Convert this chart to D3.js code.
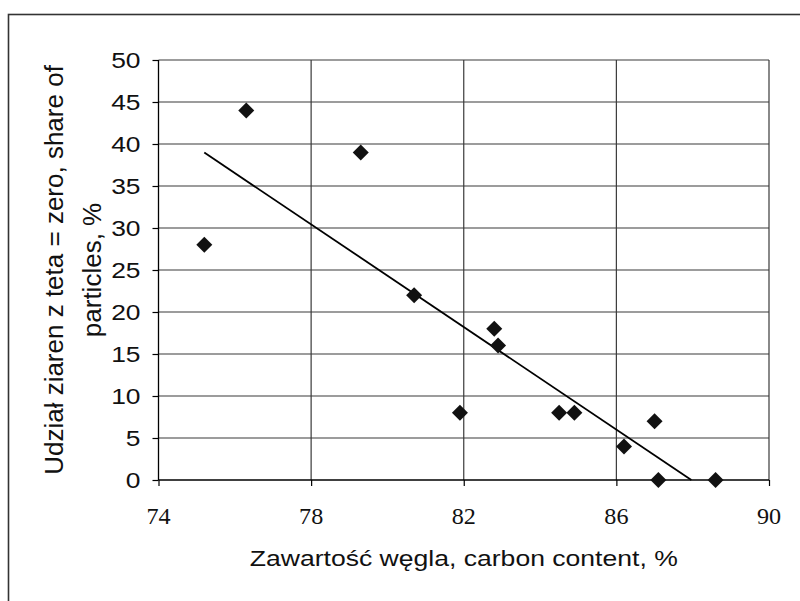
<!DOCTYPE html>
<html>
<head>
<meta charset="utf-8">
<script src="https://cdn.jsdelivr.net/npm/d3@7"></script>
<style>
  html, body { margin: 0; padding: 0; background: #fff; }
  svg { display: block; }
</style>
</head>
<body>
<svg id="chart" width="800" height="601"></svg>
<script>
// ---- data ----
const carbon = [75.2, 76.3, 79.3, 80.7, 81.9, 82.8, 82.9, 84.5, 84.9, 86.2, 87.0, 87.1, 88.6];
const share  = [28, 44, 39, 22, 8, 18, 16, 8, 8, 4, 7, 0, 0];
const xTicks = [74, 78, 82, 86, 90];
const yTicks = [0, 5, 10, 15, 20, 25, 30, 35, 40, 45, 50];
const xTitle = "Zawartość węgla, carbon content, %";
const yTitleLines = ["Udział ziaren z teta = zero, share of", "particles, %"];

// ---- layout ----
const svg = d3.select("#chart");
const plot = { left: 158.5, right: 769, top: 60, bottom: 480 };
const x = d3.scaleLinear().domain([74, 90]).range([plot.left, plot.right]);
const y = d3.scaleLinear().domain([0, 50]).range([plot.bottom, plot.top]);

// outer frame
svg.append("rect")
  .attr("x", 8.5).attr("y", 14.5)
  .attr("width", 820).attr("height", 620)
  .attr("fill", "none").attr("stroke", "#333").attr("stroke-width", 1.6);

// gridlines
const grid = svg.append("g");
grid.selectAll("line.h").data(yTicks.filter(d => d !== 0)).join("line")
  .attr("x1", plot.left).attr("x2", plot.right)
  .attr("y1", d => y(d)).attr("y2", d => y(d))
  .attr("stroke", "#3a3a3a").attr("stroke-width", 1.2);
grid.selectAll("line.v").data(xTicks.filter(d => d !== 74)).join("line")
  .attr("y1", plot.top).attr("y2", plot.bottom)
  .attr("x1", d => x(d)).attr("x2", d => x(d))
  .attr("stroke", "#3a3a3a").attr("stroke-width", 1.2);

// axes (lines + ticks, labels drawn separately for font control)
const yAxis = svg.append("g").attr("transform", `translate(${plot.left},0)`)
  .call(d3.axisLeft(y).tickValues(yTicks).tickSize(6).tickFormat(""));
const xAxis = svg.append("g").attr("transform", `translate(0,${plot.bottom})`)
  .call(d3.axisBottom(x).tickValues(xTicks).tickSize(6).tickFormat(""));
[yAxis, xAxis].forEach(g => {
  g.select(".domain").attr("stroke", "#000").attr("stroke-width", 1.3);
  g.selectAll(".tick line").attr("stroke", "#000").attr("stroke-width", 1.2);
});
yAxis.select(".domain").attr("d", `M0,${plot.top}V${plot.bottom}`);
xAxis.select(".domain").attr("d", `M${plot.left},0H${plot.right}`);

// y tick labels
svg.append("g").selectAll("text").data(yTicks).join("text")
  .attr("transform", d => `translate(140.5,${y(d) + 7.9}) scale(1.2,1)`)
  .attr("text-anchor", "end")
  .attr("font-family", "Liberation Sans, Arial, sans-serif")
  .attr("font-size", 22)
  .attr("fill", "#111")
  .text(d => d);

// x tick labels
svg.append("g").selectAll("text").data(xTicks).join("text")
  .attr("transform", d => `translate(${x(d)},524) scale(1.05,1)`)
  .attr("text-anchor", "middle")
  .attr("font-family", "Liberation Serif, Times New Roman, serif")
  .attr("font-size", 23)
  .attr("fill", "#111")
  .text(d => d);

// x title
svg.append("text")
  .attr("x", (plot.left + plot.right) / 2).attr("y", 566)
  .attr("text-anchor", "middle")
  .attr("font-family", "Liberation Sans, Arial, sans-serif")
  .attr("font-size", 21.5)
  .attr("textLength", 428).attr("lengthAdjust", "spacingAndGlyphs")
  .attr("fill", "#111")
  .text(xTitle);

// y title (two lines)
const yc = (plot.top + plot.bottom) / 2;
svg.append("g").selectAll("text").data(yTitleLines).join("text")
  .attr("transform", (d, i) => `translate(${63 + i * 38},${yc}) rotate(-90)`)
  .attr("text-anchor", "middle")
  .attr("font-family", "Liberation Sans, Arial, sans-serif")
  .attr("font-size", 26)
  .attr("fill", "#111")
  .text(d => d);

// regression trend line (least squares)
const n = carbon.length;
const mx = d3.mean(carbon), my = d3.mean(share);
let sxy = 0, sxx = 0;
for (let i = 0; i < n; i++) { sxy += (carbon[i] - mx) * (share[i] - my); sxx += (carbon[i] - mx) ** 2; }
const slope = sxy / sxx, icpt = my - slope * mx;
const x0 = d3.min(carbon);
const x1 = Math.min(d3.max(carbon), -icpt / slope);
svg.append("line")
  .attr("x1", x(x0)).attr("y1", y(slope * x0 + icpt))
  .attr("x2", x(x1)).attr("y2", y(slope * x1 + icpt))
  .attr("stroke", "#000").attr("stroke-width", 1.8);

// diamond markers
const pts = carbon.map((c, i) => ({ c, s: share[i] }));
svg.append("g").selectAll("path").data(pts).join("path")
  .attr("transform", d => `translate(${x(d.c)},${y(d.s)})`)
  .attr("d", "M0,-8L8,0L0,8L-8,0Z")
  .attr("fill", "#111");
</script>
</body>
</html>
